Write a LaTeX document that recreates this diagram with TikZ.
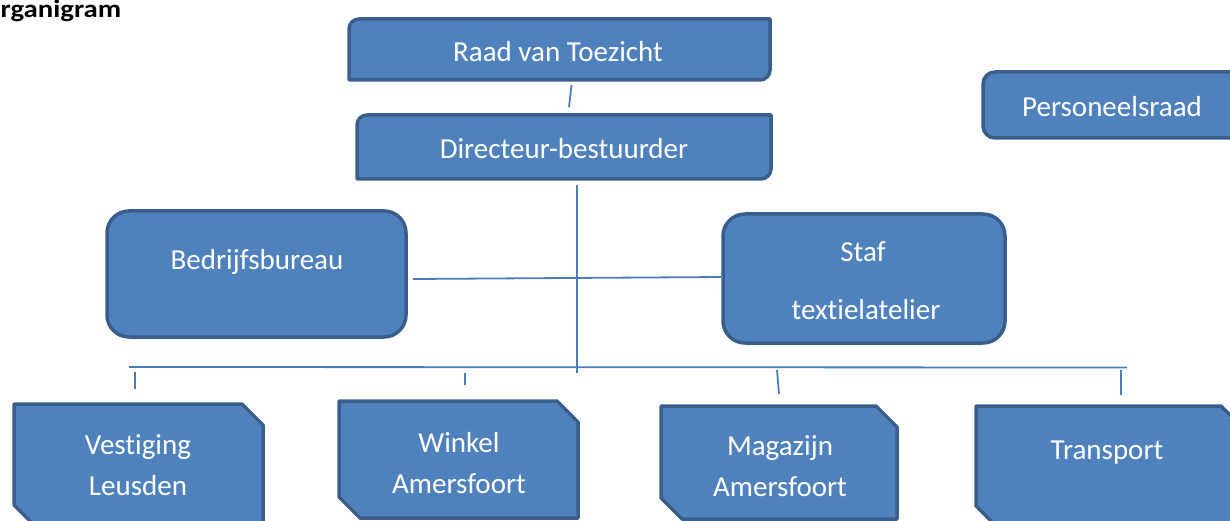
\documentclass[tikz,border=0pt]{standalone}
\usepackage{fontspec}
\setmainfont{Carlito}[Ligatures={NoCommon}]
\usetikzlibrary{calc,fit}
\definecolor{boxfill}{HTML}{4F81BD}
\definecolor{boxedge}{HTML}{3A5E8C}
\definecolor{linkc}{HTML}{4A7EBB}
\tikzset{
  frame/.style={fill=boxfill, draw=boxedge, line width=3.5pt, line join=round},
  area/.style={inner sep=0pt, outer sep=0pt, draw=none},
  txt/.style={text=white, font=\fontsize{29}{35}\selectfont, inner sep=0pt, anchor=base},
  link/.style={draw=linkc, line width=1.8pt},
}
\newcommand\diaground[2]{%
  \path[frame] ($(#1.north west)+(0,#2)$) .. controls ($(#1.north west)+(0,0.45*#2)$) and ($(#1.north west)+(0.45*#2,0)$) .. ($(#1.north west)+(#2,0)$)
    -- (#1.north east) -- ($(#1.south east)+(0,-#2)$) .. controls ($(#1.south east)+(0,-0.45*#2)$) and ($(#1.south east)+(-0.45*#2,0)$) .. ($(#1.south east)+(-#2,0)$)
    -- (#1.south west) -- cycle;}
\newcommand\allround[2]{%
  \path[frame, rounded corners=#2] (#1.north west) rectangle (#1.south east);}
\newcommand\diagsnip[2]{%
  \path[frame] (#1.north west) -- ($(#1.north east)+(-#2,0)$) -- ($(#1.north east)+(0,#2)$)
    -- (#1.south east) -- ($(#1.south west)+(#2,0)$) -- ($(#1.south west)+(0,-#2)$) -- cycle;}
\begin{document}
\begin{tikzpicture}[x=1pt,y=-1pt]
\useasboundingbox (0,0) rectangle (1230,521);
\clip (0,0) rectangle (1230,521);

% box areas
\node[area, fit={(349,19) (770,80)}] (raad) {};
\node[area, fit={(357,115) (771,179)}] (dir) {};
\node[area, fit={(983,72) (1242,138)}] (pers) {};
\node[area, fit={(107,211) (406,337)}] (bedr) {};
\node[area, fit={(723,214) (1005,343)}] (staf) {};
\node[area, fit={(14,404) (263,526)}] (vest) {};
\node[area, fit={(339,401) (578,518)}] (wink) {};
\node[area, fit={(661,406) (897,519)}] (maga) {};
\node[area, fit={(976,406) (1242,527)}] (tran) {};

% shapes
\diaground{raad}{10}
\diaground{dir}{10}
\allround{pers}{12pt}
\allround{bedr}{22pt}
\allround{staf}{22pt}
\diagsnip{vest}{21}
\diagsnip{wink}{21}
\diagsnip{maga}{21}
\diagsnip{tran}{21}

% texts
\node[anchor=base west, inner sep=0pt, font=\bfseries\fontsize{25}{30}\selectfont] (title) at (0.5,17.7) {\scalebox{1.15}[1]{rganigram}};
\node[txt] (raadt) at (558,62) {Raad van Toezicht};
\node[txt] (dirt) at (564,159) {Directeur-bestuurder};
\node[txt] (perst) at (1112,117) {Personeelsraad};
\node[txt] (bedrt) at (257,269) {Bedrijfsbureau};
\node[txt] (staft) at (863,261) {Staf};
\node[txt] (staft2) at (866,319) {textielatelier};
\node[txt] (vestt) at (138,454) {Vestiging};
\node[txt] (vestt2) at (138,495) {Leusden};
\node[txt] (winkt) at (459,452) {Winkel};
\node[txt] (winkt2) at (459,493) {Amersfoort};
\node[txt] (magat) at (780,455) {Magazijn};
\node[txt] (magat2) at (780,496) {Amersfoort};
\node[txt] (trant) at (1107,459) {Transport};

% connector points
\coordinate (rd1) at (571.5,85);
\coordinate (rd2) at (569,107);
\coordinate (v1) at (577,185);
\coordinate (v2) at (577,373);
\coordinate (h1) at (413,279);
\coordinate (h2) at (723,277);
\coordinate (b1) at (129,367);
\coordinate (b2) at (1127,367.5);
\coordinate (t1a) at (135,372); \coordinate (t1b) at (135,389);
\coordinate (t2a) at (465,373); \coordinate (t2b) at (465,385);
\coordinate (t3a) at (777,370); \coordinate (t3b) at (779,394);
\coordinate (t4a) at (1121,370); \coordinate (t4b) at (1121,395);

\draw[link] (rd1) -- (rd2);
\draw[link] (v1) -- (v2);
\draw[link] (h1) -- (h2);
\draw[link] (b1) -- (b2);
\draw[link] (t1a) -- (t1b);
\draw[link] (t2a) -- (t2b);
\draw[link] (t3a) -- (t3b);
\draw[link] (t4a) -- (t4b);
\end{tikzpicture}
\end{document}
